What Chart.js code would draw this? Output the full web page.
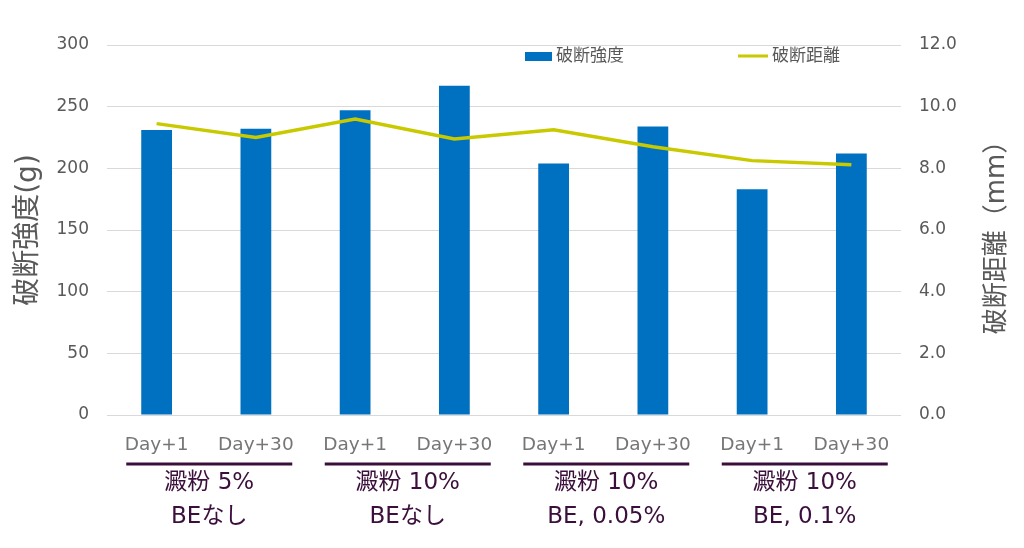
<!DOCTYPE html>
<html>
<head>
<meta charset="utf-8">
<script src="https://cdn.jsdelivr.net/npm/chart.js@4"></script>
<style>
  html, body { margin: 0; padding: 0; background: #fff; }
  #wrap { width: 1024px; height: 548px; }
</style>
</head>
<body>
<div id="wrap"><canvas id="chart" width="1024" height="548"></canvas></div>
<script>
// データ
const days = ["Day+1", "Day+30", "Day+1", "Day+30", "Day+1", "Day+30", "Day+1", "Day+30"];
const strength = [231, 232, 247, 267, 204, 234, 183, 212];      // 破断強度 (g)
const distance = [9.45, 9.0, 9.6, 8.95, 9.25, 8.7, 8.25, 8.12]; // 破断距離 (mm)
const groups = [["澱粉 5%", "BEなし"], ["澱粉 10%", "BEなし"], ["澱粉 10%", "BE, 0.05%"], ["澱粉 10%", "BE, 0.1%"]];

const FONT = "'DejaVu Sans', 'Noto Sans CJK JP', sans-serif";
const GRAY = "#595959";
const PURPLE = "#3b0f3b";

// グループ名・下線・凡例・右軸タイトルを描く
const extras = {
    id: 'extras',
    afterDraw(chart) {
        const ctx = chart.ctx;
        const xs = chart.scales.x;
        ctx.save();
        groups.forEach((g, i) => {
            const cx = (xs.getPixelForValue(i * 2) + xs.getPixelForValue(i * 2 + 1)) / 2 + 3;
            ctx.strokeStyle = PURPLE;
            ctx.lineWidth = 3;
            ctx.beginPath();
            ctx.moveTo(cx - 83, 464);
            ctx.lineTo(cx + 83, 464);
            ctx.stroke();
            ctx.fillStyle = PURPLE;
            ctx.font = "23px " + FONT;
            ctx.textAlign = "center";
            ctx.textBaseline = "middle";
            ctx.fillText(g[0], cx, 483);
            ctx.fillText(g[1], cx, 517);
        });

        // 凡例
        const ds = chart.data.datasets;
        ctx.font = "17px " + FONT;
        ctx.textAlign = "left";
        ctx.textBaseline = "middle";
        ctx.fillStyle = ds[1].backgroundColor;
        ctx.fillRect(525, 52, 27, 9);
        ctx.fillStyle = GRAY;
        ctx.fillText(ds[1].label, 556, 57);
        ctx.strokeStyle = ds[0].borderColor;
        ctx.lineWidth = 3;
        ctx.beginPath();
        ctx.moveTo(738, 56);
        ctx.lineTo(768, 56);
        ctx.stroke();
        ctx.fillText(ds[0].label, 772, 57);

        // 右軸タイトル
        ctx.translate(997, 231);
        ctx.rotate(-Math.PI / 2);
        ctx.font = "26px " + FONT;
        ctx.textAlign = "center";
        ctx.fillText("破断距離（mm）", 0, 0);
        ctx.restore();
    }
};

new Chart(document.getElementById("chart"), {
    data: {
        labels: days,
        datasets: [{
            type: 'line',
            label: "破断距離",
            data: distance,
            yAxisID: 'y2',
            borderColor: "#c9c900",
            borderWidth: 3.5,
            pointRadius: 0,
            tension: 0,
            fill: false,
            order: 1
        }, {
            type: 'bar',
            label: "破断強度",
            data: strength,
            yAxisID: 'y',
            backgroundColor: "#0070c0",
            categoryPercentage: 1,
            barPercentage: 0.31,
            order: 2
        }]
    },
    plugins: [extras],
    options: {
        responsive: false,
        animation: false,
        layout: { padding: { top: 45, left: 0, right: 0, bottom: 0 } },
        plugins: {
            legend: { display: false },
            tooltip: { enabled: false }
        },
        scales: {
            x: {
                grid: { display: false, drawTicks: false },
                border: { display: false },
                ticks: { color: "#767676", font: { size: 18.5, family: FONT }, padding: 19, maxRotation: 0 },
                afterFit(s) { s.height = 133; }
            },
            y: {
                position: 'left',
                min: 0, max: 300,
                ticks: { stepSize: 50, color: GRAY, font: { size: 17, family: FONT }, padding: 18 },
                grid: { color: "#d9d9d9", drawTicks: false },
                border: { display: false },
                title: { display: true, text: "破断強度(g)", color: GRAY, font: { size: 28, family: FONT }, padding: { top: 12 } },
                afterFit(s) { s.width = 107; }
            },
            y2: {
                position: 'right',
                min: 0, max: 12,
                ticks: { stepSize: 2, color: GRAY, font: { size: 17, family: FONT }, padding: 18,
                         callback: v => v.toFixed(1) },
                grid: { drawOnChartArea: false, drawTicks: false },
                border: { display: false },
                afterFit(s) { s.width = 123; }
            }
        }
    }
});
</script>
</body>
</html>
